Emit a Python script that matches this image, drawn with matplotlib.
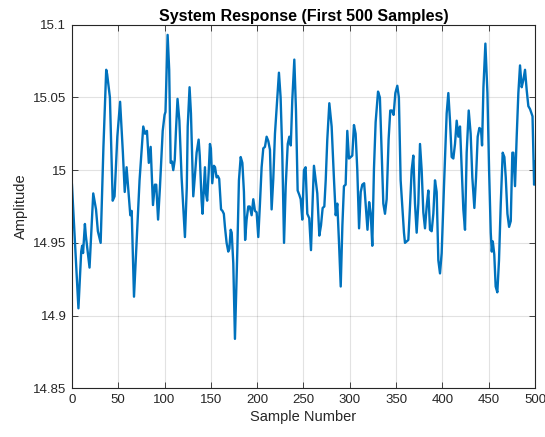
import numpy as np
import matplotlib
matplotlib.use("Agg")
import matplotlib.pyplot as plt

# sample positions and amplitudes (peaks, troughs and bends)
sample = [0, 7, 10, 11, 12, 14, 15, 19, 23, 26, 28, 31, 34, 37, 38, 41, 44, 46, 49, 52,
          55, 57, 59, 61, 63, 64.5, 67, 73, 77, 79, 81, 83, 85, 87.5, 89.5, 91, 93, 95, 98, 100,
          101, 103.3, 105, 106.6, 108, 109.4, 111, 112.3, 114, 116, 118.4, 122, 124, 125, 127, 128.5,
          131, 133, 134.6, 136.8, 138, 140, 141, 142.5, 143.6, 144.7, 146, 147.6, 149, 150, 151.5,
          153.3, 154.5, 156.2, 157.5, 159, 160, 161, 162.5, 164, 165.2, 167, 168.8, 170, 171.4, 172.5,
          174.2, 176, 178.5, 180.3, 182.2, 184, 185.7, 187, 188.6, 190.4, 192, 194, 195.8, 197.6,
          199.4, 201.2, 203, 204.8, 206.6, 208.4, 210.2, 212, 213.8, 215.6, 217.4, 219.2, 221.7,
          223.5, 225.3, 227.1, 229, 230.8, 233, 234.7, 236.3, 237.9, 240.1, 241.9, 243.7, 245.5,
          247, 248.7, 250.5, 252.3, 254.1, 256.2, 258.1, 259.9, 261.3, 262.8, 264.9, 267.1, 268.9,
          270.7, 272.5, 274, 275.7, 277.9, 280.4, 282.9, 284.8, 286.5, 288.3, 290.2, 292, 293.7,
          295.5, 297.3, 299.1, 301, 302.7, 304.5, 306.3, 308.1, 310, 311.8, 313.5, 315.5, 317.3,
          319.1, 320.9, 322.6, 324.3, 326.1, 327.9, 330.5, 332.5, 334.4, 336.2, 338, 339.8, 341.9,
          343.7, 345.5, 347.3, 349.2, 351.3, 353, 354.9, 356.7, 358.5, 359.6, 361.4, 363.2, 365,
          366.8, 368.6, 370.4, 372.2, 374, 375.8, 377.6, 379.4, 381.2, 383, 384.8, 386.6, 388.4,
          390.2, 392, 393.8, 395.6, 397.4, 399.2, 401.7, 404.6, 406.4, 408.2, 410, 411.8, 413.6,
          415.4, 417.2, 419, 420.8, 422.6, 424.4, 426.2, 428.4, 430.5, 432.3, 434.5, 436.3, 438.1,
          439.9, 441.7, 442.8, 444.3, 446.4, 448.6, 450.4, 452.2, 453.3, 454.4, 456, 457.5, 459.3,
          461.1, 463, 465.1, 466.9, 468.4, 470.2, 472, 473.8, 475.5, 476.6, 478.4, 480.2, 482,
          483.8, 485.6, 487.4, 489.2, 491, 492.8, 494.6, 497.3, 499, 500]

amplitude = [14.990, 14.905, 14.944, 14.948, 14.943, 14.963, 14.955, 14.933, 14.984, 14.973,
             14.958, 14.950, 15.016, 15.069, 15.066, 15.050, 14.979, 14.982, 15.023, 15.047,
             15.012, 14.985, 15.002, 14.985, 14.969, 14.972, 14.913, 14.993, 15.030, 15.025,
             15.027, 15.005, 15.016, 14.976, 14.990, 14.990, 14.966, 14.988, 15.027, 15.038,
             15.040, 15.093, 15.069, 15.005, 15.006, 15.000, 15.007, 15.027, 15.049, 15.034,
             14.995, 14.954, 14.988, 15.030, 15.057, 15.039, 14.982, 14.998, 15.012, 15.021,
             15.010, 14.979, 14.970, 14.988, 15.002, 14.984, 14.979, 14.998, 15.018, 15.015,
             14.991, 15.003, 15.002, 14.995, 14.996, 14.994, 14.984, 14.973, 14.972, 14.970,
             14.961, 14.950, 14.944, 14.946, 14.959, 14.957, 14.936, 14.884, 14.943, 14.993,
             15.009, 15.005, 14.985, 14.952, 14.966, 14.975, 14.975, 14.969, 14.980, 14.972,
             14.971, 14.954, 14.977, 15.002, 15.015, 15.016, 15.023, 15.020, 15.014, 14.973,
             14.994, 15.025, 15.050, 15.067, 15.050, 15.012, 14.950, 14.989, 15.018, 15.023,
             15.017, 15.048, 15.076, 15.041, 14.986, 14.983, 14.980, 14.966, 15.000, 15.002,
             14.970, 14.967, 14.945, 14.979, 15.003, 14.995, 14.984, 14.955, 14.962, 14.974,
             14.975, 14.993, 15.021, 15.046, 15.030, 14.994, 14.969, 14.977, 14.951, 14.920,
             14.962, 14.989, 14.990, 15.027, 15.008, 15.009, 15.010, 15.031, 15.025, 15.000,
             14.960, 14.985, 14.990, 14.991, 14.975, 14.959, 14.978, 14.970, 14.948, 15.001,
             15.033, 15.054, 15.050, 15.012, 14.977, 14.970, 14.980, 15.021, 15.041, 15.041,
             15.038, 15.053, 15.058, 15.050, 14.993, 14.975, 14.957, 14.950, 14.951, 14.952,
             14.975, 15.000, 15.010, 14.977, 14.957, 14.977, 15.018, 15.000, 14.971, 14.960,
             14.975, 14.986, 14.959, 14.958, 14.970, 14.993, 14.985, 14.938, 14.929, 14.943,
             14.989, 15.039, 15.053, 15.034, 15.009, 15.008, 15.018, 15.034, 15.023, 15.030,
             15.002, 14.973, 14.959, 15.012, 15.041, 15.025, 14.995, 14.974, 14.995, 15.023,
             15.029, 15.028, 15.017, 15.057, 15.087, 15.053, 15.000, 14.957, 14.944, 14.951,
             14.942, 14.920, 14.916, 14.938, 14.977, 15.012, 15.009, 14.995, 14.970, 14.961,
             14.965, 15.012, 15.012, 14.989, 15.023, 15.053, 15.072, 15.057, 15.062, 15.069,
             15.055, 15.044, 15.042, 15.037, 14.990, 15.006]

xticks = [0, 50, 100, 150, 200, 250, 300, 350, 400, 450, 500]
yticks = [14.85, 14.9, 14.95, 15.0, 15.05, 15.1]
ytick_labels = ["14.85", "14.9", "14.95", "15", "15.05", "15.1"]

plt.rcParams['font.family'] = ['Liberation Sans', 'DejaVu Sans']
dark = '#262626'

fig = plt.figure(figsize=(5.45, 4.37), dpi=100)
ax = fig.add_axes([0.132, 0.1114, 0.8497, 0.8321])
ax.plot(sample, amplitude, color='#0072BD', linewidth=1.7)

ax.set_xlim(0, 500)
ax.set_ylim(14.85, 15.1)
ax.set_xticks(xticks)
ax.set_yticks(yticks)
ax.set_yticklabels(ytick_labels)
ax.grid(True, color='#262626', alpha=0.13, linewidth=0.8)
ax.set_axisbelow(True)
ax.tick_params(direction='in', top=True, right=True, length=4, width=0.6,
               colors=dark, labelsize=9.5, pad=4)
for s in ax.spines.values():
    s.set_color(dark)
    s.set_linewidth(0.8)

ax.set_xlabel('Sample Number', fontsize=10.5, color=dark, labelpad=3)
ax.set_ylabel('Amplitude', fontsize=10.5, color=dark, labelpad=4)
ax.set_title('System Response (First 500 Samples)', fontsize=11.5,
             fontweight='bold', color='black', pad=3)

fig.savefig('out.png', dpi=100)
